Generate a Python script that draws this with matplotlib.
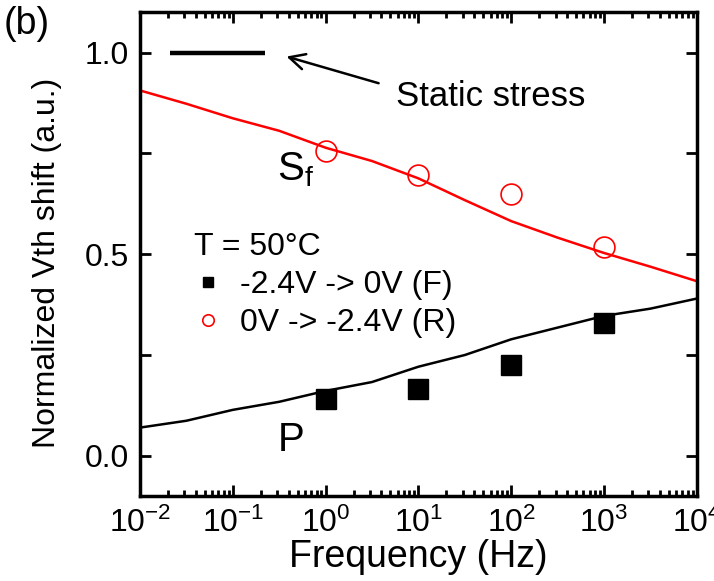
import numpy as np
import matplotlib.pyplot as plt
from matplotlib.ticker import LogLocator, MultipleLocator, NullFormatter

plt.rcParams['font.family'] = ['Liberation Sans', 'DejaVu Sans']
plt.rcParams['mathtext.fontset'] = 'custom'
plt.rcParams['mathtext.rm'] = 'Liberation Sans'
plt.rcParams['mathtext.it'] = 'Liberation Sans'

# measured points
freq = [1, 10, 100, 1000]
shift_F = [0.140, 0.165, 0.225, 0.329]
shift_R = [0.757, 0.696, 0.650, 0.518]

# simulated curves, half-decade steps
sim_freq = [1e-2, 10**-1.5, 1e-1, 10**-0.5, 1, 10**0.5, 10, 10**1.5, 100, 10**2.5, 1000, 10**3.5, 1e4]
sim_Sf = [0.906, 0.873, 0.837, 0.806, 0.764, 0.731, 0.688, 0.634, 0.582, 0.541, 0.503, 0.469, 0.433]
sim_P = [0.070, 0.087, 0.114, 0.134, 0.161, 0.183, 0.221, 0.250, 0.289, 0.318, 0.347, 0.365, 0.390]

static_freq = [10**-1.68, 10**-0.65]
static_level = [1.0, 1.0]

fs = 23

fig = plt.figure(figsize=(7.14, 5.81), dpi=100)
ax = fig.add_axes([0.196, 0.146, 0.780, 0.833])

ax.plot(sim_freq, sim_Sf, color="red", lw=1.8)
ax.plot(sim_freq, sim_P, color="black", lw=1.8)
ax.plot(static_freq, static_level, color="black", lw=3.2, solid_capstyle="butt")

ax.plot(freq, shift_F, "s", color="black", ms=14, label="-2.4V -> 0V (F)")
ax.plot(freq, shift_R, "o", mfc="none", mec="red", mew=1.2, ms=15, label="0V -> -2.4V (R)")

ax.set_xscale("log")
ax.set_xlim(1e-2, 1e4)
ax.set_ylim(-0.1, 1.1)

ax.xaxis.set_major_locator(LogLocator(base=10, numticks=10))
ax.xaxis.set_minor_locator(LogLocator(base=10, subs=np.arange(2, 10), numticks=10))
ax.xaxis.set_minor_formatter(NullFormatter())
ax.yaxis.set_major_locator(MultipleLocator(0.5))
ax.yaxis.set_minor_locator(MultipleLocator(0.25))
ax.yaxis.set_major_formatter(plt.FuncFormatter(lambda v, p: f"{v:.1f}"))

ax.tick_params(which="both", direction="in", top=True, right=True, width=2, labelsize=fs, pad=8)
ax.tick_params(which="major", length=8)
ax.tick_params(axis="y", which="minor", length=8)
ax.tick_params(axis="x", which="minor", length=4)
for s in ax.spines.values():
    s.set_linewidth(2.5)

ax.set_xlabel("Frequency (Hz)", fontsize=27, labelpad=0)
ax.set_ylabel("Normalized Vth shift (a.u.)", fontsize=23)
ax.yaxis.set_label_coords(-0.14, 0.483)

ax.annotate("", xy=(10**-0.45, 0.992), xytext=(10**0.6, 0.922),
            arrowprops=dict(arrowstyle="->", color="black", lw=1.8, mutation_scale=28))
ax.text(10**0.76, 0.89, "Static stress", fontsize=25, va="center", ha="left")
ax.text(10**-0.52, 0.71, "S$_\\mathrm{f}$", fontsize=fs + 6, va="center", ha="left")
ax.text(10**-0.52, 0.04, "P", fontsize=fs + 6, va="center", ha="left")

leg = ax.legend(title="T = 50\u00b0C", loc="upper left", bbox_to_anchor=(0.045, 0.605),
                frameon=False, fontsize=23, title_fontsize=23, markerscale=0.55,
                handlelength=0.9, handletextpad=0.55, labelspacing=0.25, alignment="left")

fig.text(0.005, 0.99, "(b)", fontsize=27, va="top", ha="left")

fig.savefig("out.png", dpi=100)
